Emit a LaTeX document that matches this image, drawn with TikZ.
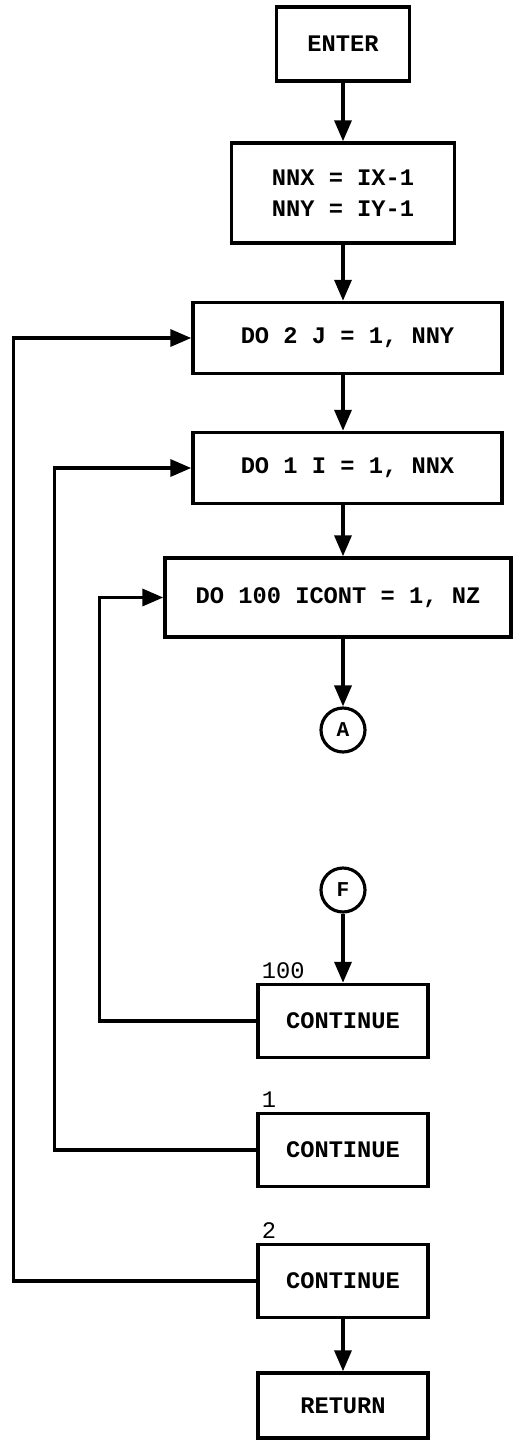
\documentclass[tikz,border=0pt]{standalone}
\usepackage{fontspec}
\setmonofont{Liberation Mono}
\usetikzlibrary{shapes, positioning, arrows.meta}

\begin{document}
\begin{tikzpicture}[x=0.02cm, y=-0.02cm,
        every node/.style={font=\ttfamily\bfseries\fontsize{13.5}{17.5}\selectfont},
        box/.style={rectangle, draw, line width=2pt, inner sep=0pt, align=left},
        conn/.style={circle, draw, line width=1.8pt, minimum size=0.88cm, inner sep=0pt,
            font=\ttfamily\bfseries\fontsize{12}{14}\selectfont},
        lbl/.style={inner sep=1pt, anchor=south west, font=\ttfamily\fontsize{13.5}{16}\selectfont},
        flow/.style={line width=2pt, -{Triangle[length=0.42cm, width=0.34cm]}}]
        \useasboundingbox (0,0) rectangle (513,1441);

        % main column
        \node[box, minimum width=2.66cm, minimum height=1.48cm] (enter) at (343, 44) {ENTER};
        \node[box, minimum width=4.46cm, minimum height=2.0cm] (nnx) at (343, 193) {NNX = IX-1\\NNY = IY-1};
        \node[box, minimum width=6.18cm, minimum height=1.42cm] (do2) at (347.5, 338) {DO 2 J = 1, NNY};
        \node[box, minimum width=6.18cm, minimum height=1.42cm] (do1) at (347.5, 468) {DO 1 I = 1, NNX};
        \node[box, minimum width=6.92cm, minimum height=1.58cm] (doicont) at (338, 597.5) {DO 100 ICONT = 1, NZ};
        
        \node[conn] (ca) at (343, 730) {A};
        \node[conn] (cf) at (343, 890) {F};
        
        \node[box, minimum width=3.4cm, minimum height=1.46cm] (cont100) at (343, 1021) {CONTINUE};
        \node[box, minimum width=3.4cm, minimum height=1.46cm] (cont1) at (343, 1150) {CONTINUE};
        \node[box, minimum width=3.4cm, minimum height=1.46cm] (cont2) at (343, 1281) {CONTINUE};
        \node[box, minimum width=3.4cm, minimum height=1.3cm] (ret) at (343, 1405.5) {RETURN};
        
        % statement labels
        \node[lbl] (l100) at ([xshift=2pt, yshift=1pt]cont100.north west) {100};
        \node[lbl] (l1) at ([xshift=2pt, yshift=1pt]cont1.north west) {1};
        \node[lbl] (l2) at ([xshift=2pt, yshift=1pt]cont2.north west) {2};
        
        \draw[flow] (enter) -- (nnx);
        \draw[flow] (nnx) -- (nnx |- do2.north);
        \draw[flow] (do2.south -| enter) -- (do1.north -| enter);
        \draw[flow] (do1.south -| enter) -- (doicont.north -| enter);
        \draw[flow] (doicont.south -| ca) -- (ca);
        \draw[flow] (cf) -- (cont100);
        \draw[flow] (cont2) -- (ret);
        
        % loops back
        \draw[flow] (cont100.west) -- ++(-157, 0) |- (doicont.west);
        \draw[flow] (cont1.west) -- ++(-202, 0) |- (do1.west);
        \draw[flow] (cont2.west) -- ++(-243, 0) |- (do2.west);
    \end{tikzpicture}
\end{document}
